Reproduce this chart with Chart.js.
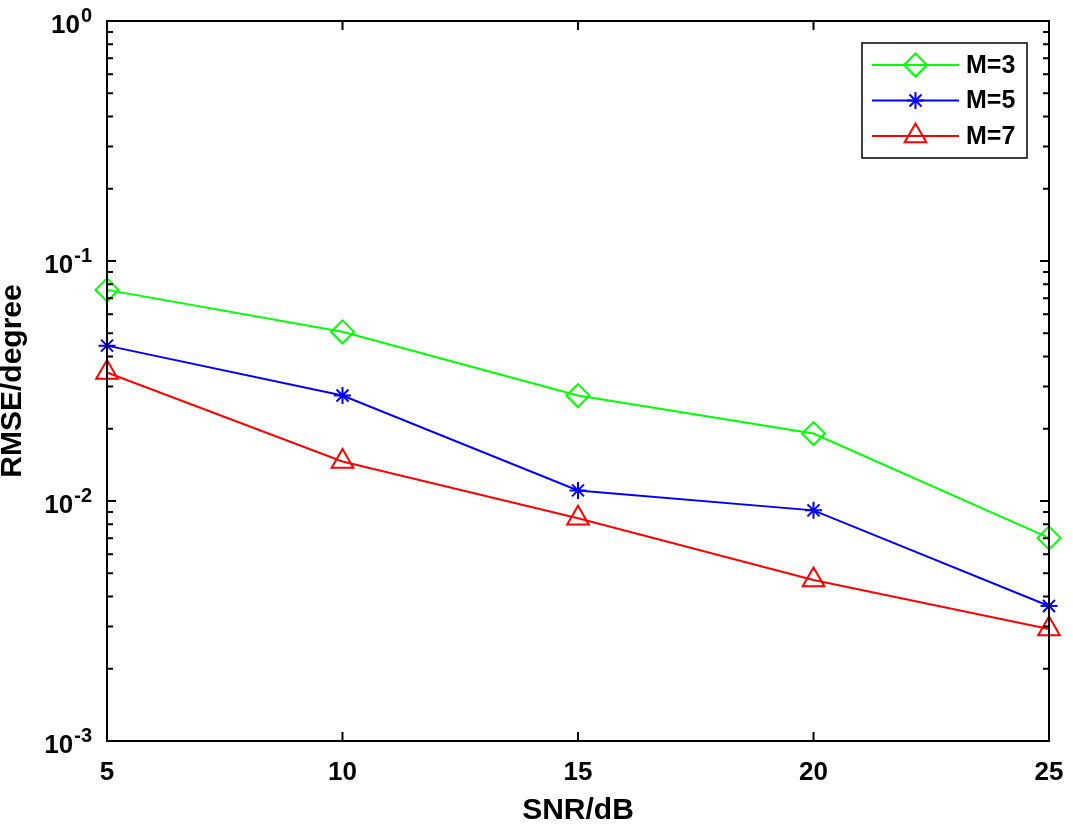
<!DOCTYPE html>
<html lang="en">
<head>
    <meta charset="UTF-8">
    <title>RMSE vs SNR</title>
    <style>
        body { margin: 0; background: #fff; }
    </style>
</head>
<body>
    <script src="https://cdn.jsdelivr.net/npm/chart.js@4.4.0/dist/chart.umd.min.js"></script>
    <canvas id="rmse" width="1073" height="828"></canvas>
    <script>
        var snr = [5, 10, 15, 20, 25];
        var rmseM3 = [0.0758, 0.0507, 0.0275, 0.0191, 0.00702];
        var rmseM5 = [0.0444, 0.0275, 0.01107, 0.00914, 0.00365];
        var rmseM7 = [0.0343, 0.0146, 0.00847, 0.00469, 0.00293];
        var yExponents = [0, -1, -2, -3];

        var FONT = '"Liberation Sans", Arial, sans-serif';

        function points(values) {
            return snr.map(function (x, i) { return { x: x, y: values[i] }; });
        }

        function series(label, color, style, radius, values) {
            return {
                label: label,
                data: points(values),
                borderColor: color,
                borderWidth: 2,
                pointStyle: style,
                pointRadius: radius,
                pointHoverRadius: radius,
                pointBorderColor: color,
                pointBorderWidth: 2,
                pointBackgroundColor: 'rgba(0,0,0,0)',
                tension: 0,
                clip: false
            };
        }

        var data = {
            datasets: [
                series('M=3', '#00ff00', 'rectRot', 11.5, rmseM3),
                series('M=5', '#0000ff', 'star', 8.5, rmseM5),
                series('M=7', '#ff0000', 'triangle', 12.5, rmseM7)
            ]
        };

        // box, inward ticks, 10^n labels and the legend (MATLAB look)
        var matlabAxes = {
            id: 'matlabAxes',
            afterDraw: function (chart) {
                var ctx = chart.ctx;
                var a = chart.chartArea;
                var xs = chart.scales.x, ys = chart.scales.y;
                ctx.save();
                ctx.strokeStyle = '#000';
                ctx.lineWidth = 2;
                ctx.strokeRect(a.left, a.top, a.right - a.left, a.bottom - a.top);

                ctx.beginPath();
                snr.forEach(function (v) {
                    var px = xs.getPixelForValue(v);
                    ctx.moveTo(px, a.bottom); ctx.lineTo(px, a.bottom - 9);
                    ctx.moveTo(px, a.top); ctx.lineTo(px, a.top + 9);
                });
                for (var e = -3; e <= 0; e++) {
                    var py = ys.getPixelForValue(Math.pow(10, e));
                    ctx.moveTo(a.left, py); ctx.lineTo(a.left + 9, py);
                    ctx.moveTo(a.right, py); ctx.lineTo(a.right - 9, py);
                    if (e < 0) {
                        for (var m = 2; m <= 9; m++) {
                            var pm = ys.getPixelForValue(m * Math.pow(10, e));
                            ctx.moveTo(a.left, pm); ctx.lineTo(a.left + 6, pm);
                            ctx.moveTo(a.right, pm); ctx.lineTo(a.right - 6, pm);
                        }
                    }
                }
                ctx.stroke();

                // y tick labels with superscripts
                ctx.fillStyle = '#000';
                ctx.textBaseline = 'middle';
                yExponents.forEach(function (e) {
                    var py = ys.getPixelForValue(Math.pow(10, e));
                    var sup = String(e);
                    ctx.font = 'bold 20px ' + FONT;
                    var wSup = ctx.measureText(sup).width;
                    ctx.font = 'bold 26px ' + FONT;
                    var wBase = ctx.measureText('10').width;
                    var right = a.left - 15;
                    ctx.textAlign = 'left';
                    ctx.fillText('10', right - wSup - wBase - 1, py + 5);
                    ctx.font = 'bold 20px ' + FONT;
                    ctx.fillText(sup, right - wSup, py - 5);
                });

                // y axis title
                ctx.save();
                ctx.translate(13, (a.top + a.bottom) / 2);
                ctx.rotate(-Math.PI / 2);
                ctx.textAlign = 'center';
                ctx.font = 'bold 30px ' + FONT;
                ctx.fillText('RMSE/degree', 0, 0);
                ctx.restore();

                // legend
                var lx = 862, ly = 43, lw = 165, lh = 115;
                ctx.fillStyle = '#fff';
                ctx.fillRect(lx, ly, lw, lh);
                ctx.lineWidth = 1.5;
                ctx.strokeRect(lx, ly, lw, lh);
                chart.data.datasets.forEach(function (ds, i) {
                    var ry = 65 + i * 35.5;
                    ctx.strokeStyle = ds.borderColor;
                    ctx.lineWidth = 2;
                    ctx.beginPath();
                    ctx.moveTo(872, ry); ctx.lineTo(959, ry);
                    ctx.stroke();
                    ctx.fillStyle = 'rgba(0,0,0,0)';
                    Chart.helpers.drawPoint(ctx, {
                        pointStyle: ds.pointStyle,
                        radius: ds.pointRadius,
                        rotation: 0,
                        borderWidth: 2
                    }, 915.5, ry);
                    ctx.fillStyle = '#000';
                    ctx.font = 'bold 25px ' + FONT;
                    ctx.textAlign = 'left';
                    ctx.textBaseline = 'middle';
                    ctx.fillText(ds.label, 966, ry + 1);
                });
                ctx.restore();
            }
        };

        var options = {
            responsive: false,
            animation: false,
            devicePixelRatio: 1,
            layout: { padding: { top: 21, right: 24, left: 0, bottom: 0 } },
            scales: {
                x: {
                    type: 'linear',
                    min: 5,
                    max: 25,
                    ticks: {
                        stepSize: 5,
                        color: '#000',
                        padding: 16,
                        font: { family: FONT, size: 26, weight: 'bold' }
                    },
                    grid: { display: false, drawTicks: false },
                    border: { display: false },
                    title: {
                        display: true,
                        text: 'SNR/dB',
                        color: '#000',
                        padding: { top: 0, bottom: 2 },
                        font: { family: FONT, size: 30, weight: 'bold', lineHeight: 1 }
                    },
                    afterFit: function (scale) {
                        scale.height = 87;
                        scale.paddingLeft = 0;
                        scale.paddingRight = 0;
                    }
                },
                y: {
                    type: 'logarithmic',
                    min: 0.001,
                    max: 1,
                    ticks: { display: false },
                    grid: { display: false, drawTicks: false },
                    border: { display: false },
                    afterFit: function (scale) { scale.width = 107; }
                }
            },
            plugins: {
                legend: { display: false },
                tooltip: { enabled: false }
            }
        };

        window.onload = function () {
            var ctx = document.getElementById('rmse').getContext('2d');
            window.rmseChart = new Chart(ctx, {
                type: 'line',
                data: data,
                options: options,
                plugins: [matlabAxes]
            });
        };
    </script>
</body>
</html>
